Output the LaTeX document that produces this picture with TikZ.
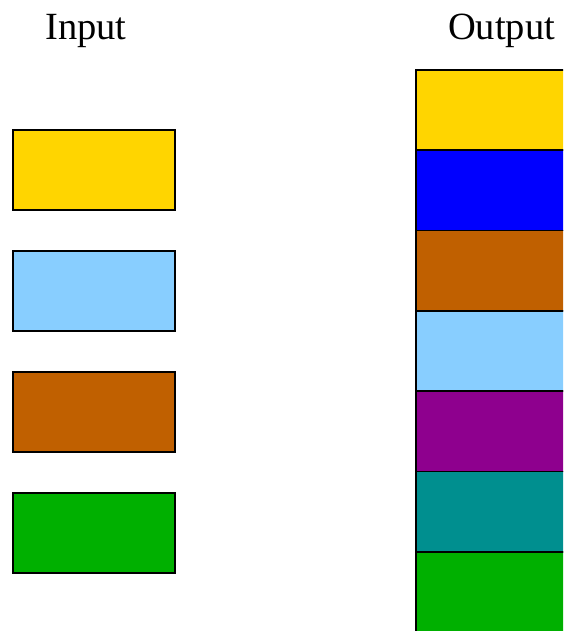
\documentclass[tikz,border=0pt]{standalone}
\usepackage{fontspec}
\setmainfont{Liberation Serif}
\usetikzlibrary{positioning}
\definecolor{cYel}{HTML}{FFD500}
\definecolor{cBlu}{HTML}{0000FF}
\definecolor{cBrn}{HTML}{C06000}
\definecolor{cSky}{HTML}{88CEFF}
\definecolor{cPur}{HTML}{8E008E}
\definecolor{cTea}{HTML}{008F8F}
\definecolor{cGrn}{HTML}{00B000}
\tikzset{
  blk/.style={draw=black,line width=1.6pt,outer sep=0pt,inner sep=0pt},
  inblk/.style={blk,minimum width=162pt,minimum height=80pt},
  outblk/.style={blk,minimum width=220pt,minimum height=80.3pt},
  ttl/.style={font=\fontsize{38.5}{44}\selectfont,anchor=base},
}
\begin{document}
\begin{tikzpicture}[x=1pt,y=1pt]
  \useasboundingbox (0,0) rectangle (563,-631);
  \clip (0,0) rectangle (563,-631);
  % --- titles ---
  \node[ttl] (tin)  at (86,-40)  {Input};
  \node[ttl] (tout) at (501.5,-40) {Output};
  % --- input blocks ---
  \node[inblk,fill=cYel] (i1) at (94,-170) {};
  \node[inblk,fill=cSky,below=41pt of i1] (i2) {};
  \node[inblk,fill=cBrn,below=41pt of i2] (i3) {};
  \node[inblk,fill=cGrn,below=41pt of i3] (i4) {};
  % --- output stack ---
  \node[outblk,fill=cYel,anchor=north west] (o1) at (416,-70) {};
  \node[outblk,fill=cBlu,below=0pt of o1] (o2) {};
  \node[outblk,fill=cBrn,below=0pt of o2] (o3) {};
  \node[outblk,fill=cSky,below=0pt of o3] (o4) {};
  \node[outblk,fill=cPur,below=0pt of o4] (o5) {};
  \node[outblk,fill=cTea,below=0pt of o5] (o6) {};
  \node[outblk,fill=cGrn,below=0pt of o6] (o7) {};
\end{tikzpicture}
\end{document}
